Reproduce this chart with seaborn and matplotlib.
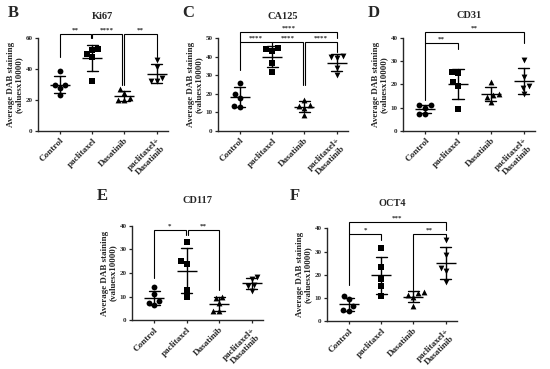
import numpy as np
import pandas as pd
import matplotlib
matplotlib.use("Agg")
import matplotlib.pyplot as plt
import seaborn as sns

sns.set_style("ticks")
plt.rcParams['font.family'] = ['Liberation Serif', 'DejaVu Serif']
plt.rcParams['font.weight'] = 'bold'

categories = ["Control", "paclitaxel", "Dasatinib", "paclitaxel+\nDasatinib"]
markers = ["o", "s", "^", "v"]

# Panel B  Ki67
ki67_control = [39, 30, 29.5, 27.5, 23.5]
ki67_paclitaxel = [53, 52, 50, 48, 32]
ki67_dasatinib = [27, 24.5, 21, 20, 20]
ki67_combo = [45.5, 41.5, 34, 32, 32]
ki67_ticks = [0, 20, 40, 60]

# Panel C  CA125
ca125_control = [26, 20, 18, 13.5, 13]
ca125_paclitaxel = [44.5, 44, 43, 36.5, 31.5]
ca125_dasatinib = [16.5, 14, 13.5, 12.5, 8.5]
ca125_combo = [40.5, 40, 39.5, 34, 30]
ca125_ticks = [0, 10, 20, 30, 40, 50]

# Panel D  CD31
cd31_control = [11, 11, 10, 7.5, 7.5]
cd31_paclitaxel = [25.5, 25, 21, 19.5, 9.5]
cd31_dasatinib = [21, 16, 15.5, 14.5, 12.5]
cd31_combo = [30.5, 23, 19.5, 18.5, 16]
cd31_ticks = [0, 10, 20, 30, 40]

# Panel E  CD117
cd117_control = [14, 11, 8, 7.5, 6.5]
cd117_paclitaxel = [33, 25, 24, 13, 10]
cd117_dasatinib = [10, 9.5, 7.5, 4, 4]
cd117_combo = [18.5, 17.5, 15, 14.5, 12.5]
cd117_ticks = [0, 10, 20, 30, 40]

# Panel F  OCT4
oct4_control = [11, 9.5, 6.5, 5, 4.5]
oct4_paclitaxel = [31.5, 23.5, 18, 15, 11]
oct4_dasatinib = [12.5, 12, 11.5, 10.5, 6.5]
oct4_combo = [35, 28.5, 23, 21.5, 17]
oct4_ticks = [0, 10, 20, 30, 40]

# significance brackets: (x1, x2, y, drop1_end, drop2_end, label)
ki67_sig = [(0, 0.97, 62.4, 47.5, 59.8, "**"),
            (1, 1.93, 62.4, 59.8, 29.7, "****"),
            (2.0, 3, 62.4, 29.7, 48, "**")]
ca125_sig = [(0, 3, 53.4, 47.6, 49.8, "****"),
             (0, 1, 47.6, 32.8, 46.4, "****"),
             (1, 1.95, 47.6, 46.4, 24.7, "****"),
             (2.02, 3, 47.6, 24.7, 42.6, "****")]
cd31_sig = [(0, 3, 42.6, 37.9, 37.6, "**"),
            (0, 1, 37.9, 13.3, 35, "**")]
cd117_sig = [(0, 0.97, 38.2, 17.8, 36, "*"),
             (1.03, 2, 38.2, 36, 12.8, "**")]
oct4_sig = [(0, 3, 42.6, 37.4, 39.3, "***"),
            (0, 1, 37.4, 15.6, 35, "*"),
            (2, 3, 37.4, 13.5, 35.7, "**")]

W, H = 550, 369
fig = plt.figure(figsize=(W / 100, H / 100), dpi=100)


def rect(l, r, top, bot):
    return [l / W, 1 - bot / H, (r - l) / W, (bot - top) / H]


panels = [
    ("B", "Ki67", [ki67_control, ki67_paclitaxel, ki67_dasatinib, ki67_combo], ki67_ticks, ki67_sig,
     rect(38, 168, 38, 131), (13, 13)),
    ("C", "CA125", [ca125_control, ca125_paclitaxel, ca125_dasatinib, ca125_combo], ca125_ticks, ca125_sig,
     rect(218, 348, 38, 131), (188, 13)),
    ("D", "CD31", [cd31_control, cd31_paclitaxel, cd31_dasatinib, cd31_combo], cd31_ticks, cd31_sig,
     rect(403, 535, 37.7, 131), (374, 13)),
    ("E", "CD117", [cd117_control, cd117_paclitaxel, cd117_dasatinib, cd117_combo], cd117_ticks, cd117_sig,
     rect(132, 263, 225.7, 320.3), (102, 196)),
    ("F", "OCT4", [oct4_control, oct4_paclitaxel, oct4_dasatinib, oct4_combo], oct4_ticks, oct4_sig,
     rect(327, 457, 228.3, 321.3), (295, 196)),
]

for letter, title, groups, ticks, sig, r, lpos in panels:
    ax = fig.add_axes(r)
    df = pd.DataFrame({
        "group": np.repeat(categories, [len(g) for g in groups]),
        "value": np.concatenate(groups),
    })
    for cat, m in zip(categories, markers):
        sub = df[df["group"] == cat]
        sns.swarmplot(data=sub, x="group", y="value", order=categories, marker=m,
                      color="black", size=4.2, ax=ax, zorder=3)
    sns.pointplot(data=df, x="group", y="value", order=categories, errorbar="sd",
                  capsize=0.34, color="black", marker="_", linestyle="none",
                  markersize=15, markeredgewidth=1.0, err_kws={"linewidth": 1.0},
                  ax=ax, zorder=4)
    ax.set_xlim(-0.68, 3.35)
    ax.set_ylim(0, ticks[-1])
    ax.set_yticks(ticks)
    ax.set_yticklabels([str(t) for t in ticks], fontsize=5, fontweight="bold")
    ax.set_xticks(range(4))
    ax.set_xticklabels(categories, rotation=45, ha="right", rotation_mode="anchor",
                       fontsize=6.6, fontweight="bold", multialignment="center",
                       linespacing=1.05)
    ax.set_xlabel("")
    ax.set_ylabel("Average DAB staining\n(valuesx10000)", fontsize=6.5, fontweight="bold",
                  labelpad=2, linespacing=1.0)
    ax.tick_params(axis="both", length=2.5, width=0.9, pad=1.5)
    for s in ["top", "right"]:
        ax.spines[s].set_visible(False)
    for s in ["left", "bottom"]:
        ax.spines[s].set_linewidth(1.0)
    ax.set_title(title, fontsize=7.5, fontweight="bold", pad=14 if letter in "BCD" else 16)
    fig.text(lpos[0] / W, 1 - lpos[1] / H, letter, fontsize=12, fontweight="bold",
             ha="center", va="center")
    for x1, x2, y, e1, e2, lab in sig:
        ax.plot([x1, x1, x2, x2], [e1, y, y, e2], color="black", lw=0.8,
                clip_on=False, solid_joinstyle="miter")
        ax.annotate(lab, xy=((x1 + x2) / 2, y), xytext=(0, 1), textcoords="offset points",
                    ha="center", va="bottom", fontsize=5, fontweight="bold",
                    annotation_clip=False)

fig.savefig("out.png", dpi=100)
